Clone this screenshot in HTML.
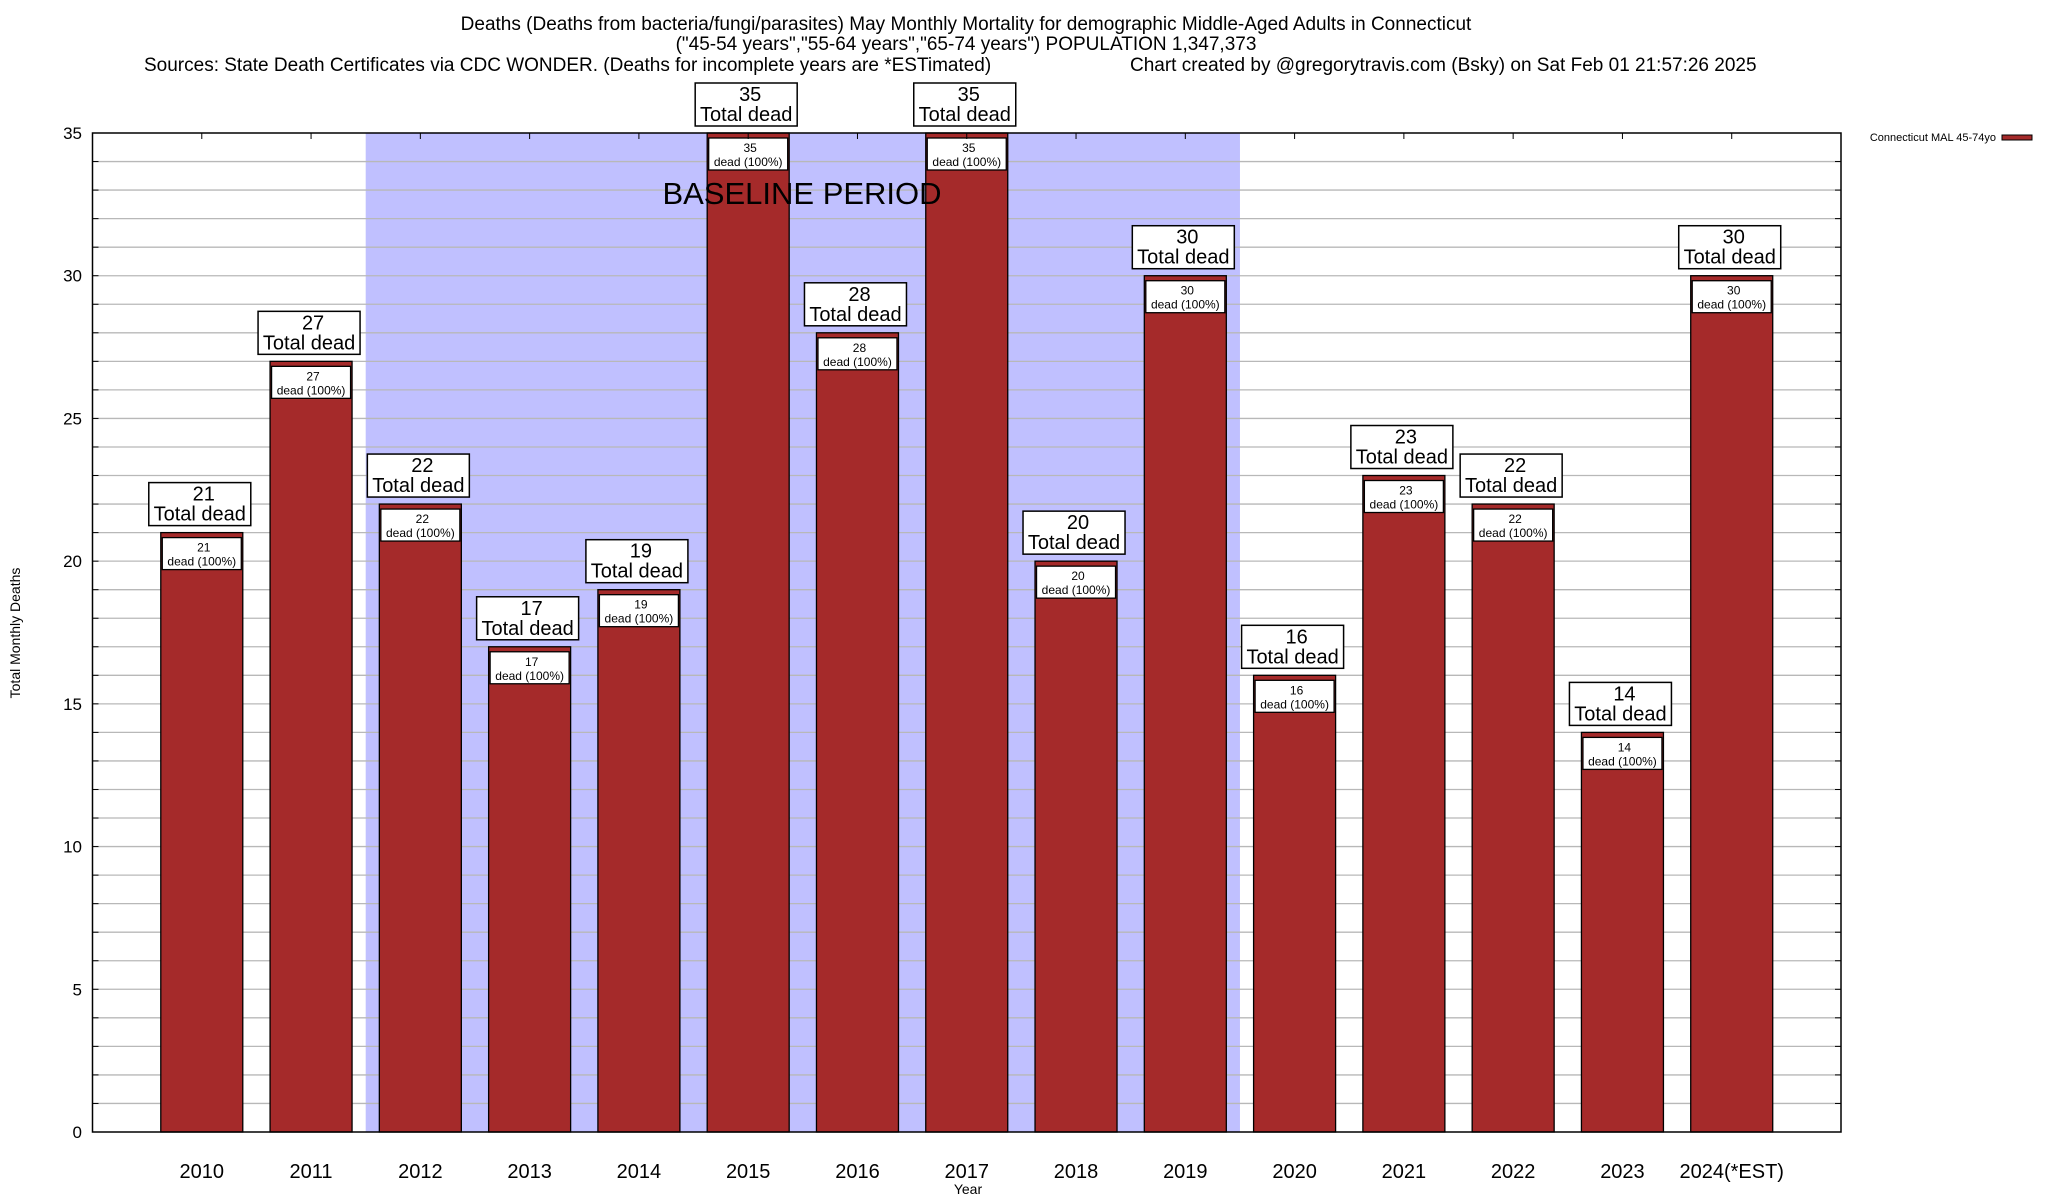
<!DOCTYPE html>
<html><head><meta charset="utf-8"><style>
html,body{margin:0;padding:0;background:#fff;}
svg{display:block;font-family:"Liberation Sans",sans-serif;}
</style></head><body>
<svg id="chart" width="2048" height="1200" viewBox="0 0 2048 1200">
<rect x="0" y="0" width="2048" height="1200" fill="#fff"/>
<g font-size="19" fill="#000">
<text x="966" y="30" text-anchor="middle">Deaths (Deaths from bacteria/fungi/parasites) May Monthly Mortality for demographic Middle-Aged Adults in Connecticut</text>
<text x="966" y="50" text-anchor="middle">("45-54 years","55-64 years","65-74 years") POPULATION 1,347,373</text>
<text x="144" y="71">Sources: State Death Certificates via CDC WONDER. (Deaths for incomplete years are *ESTimated)</text>
<text x="1130" y="71">Chart created by @gregorytravis.com (Bsky) on Sat Feb 01 21:57:26 2025</text>
</g>
<g id="plot"></g>
<text x="968" y="1194" font-size="14" text-anchor="middle">Year</text>
<text transform="translate(20,633) rotate(-90)" font-size="14" text-anchor="middle">Total Monthly Deaths</text>
<g>
<text x="1996" y="141" font-size="11" text-anchor="end">Connecticut MAL 45-74yo</text>
<rect x="2002" y="135" width="30" height="5" fill="#a52a2a" stroke="#000" stroke-width="1"/>
</g>
</svg>
<script>
const categories = ["2010","2011","2012","2013","2014","2015","2016","2017","2018","2019","2020","2021","2022","2023","2024(*EST)"];
const values = [21,27,22,17,19,35,28,35,20,30,16,23,22,14,30];
const yTicks = [0,5,10,15,20,25,30,35];
const baselineRange = [1.5, 9.5];

const L=92.5,R=1841,T=133,B=1132,yMax=35;
const xs=i=>L+(i+1)*(R-L)/(categories.length+1);
const ys=v=>B-v*(B-T)/yMax;
const NS="http://www.w3.org/2000/svg";
const g=document.getElementById('plot');
function mk(tag,attrs,parent){const e=document.createElementNS(NS,tag);for(const k in attrs)e.setAttribute(k,attrs[k]);(parent||g).appendChild(e);return e;}

let sh=mk('rect',{x:xs(baselineRange[0]),y:T,width:xs(baselineRange[1])-xs(baselineRange[0]),height:B-T,fill:'#c0c0ff'});


for(let v=1;v<yMax;v++){
  let ln=mk('line',{x1:L,x2:R,y1:ys(v),y2:ys(v),stroke:'#b8b8b8','stroke-width':1.3});
  
  
  mk('line',{x1:L,x2:L+6,y1:ys(v),y2:ys(v),stroke:'#000','stroke-width':1});
  mk('line',{x1:R-6,x2:R,y1:ys(v),y2:ys(v),stroke:'#000','stroke-width':1});
}
yTicks.forEach(v=>{
  let t=mk('text',{x:82,y:ys(v)+6,'font-size':17,'text-anchor':'end'});
  t.textContent=v;
  
  
});
const bw=82;
categories.forEach((c,i)=>{
  const cx=xs(i),v=values[i],yt=ys(v);
  let b=mk('rect',{x:cx-bw/2,y:yt,width:bw,height:B-yt,fill:'#a52a2a',stroke:'#000','stroke-width':1.3});
  
  
  let ib=mk('rect',{x:cx-bw/2+1.5,y:yt+5,width:bw-3,height:32,fill:'#fff',stroke:'#000','stroke-width':1.3});
  
  
  let t1=mk('text',{x:cx+2,y:yt+19,'font-size':12,'text-anchor':'middle'});t1.textContent=v;
  
  
  let t2=mk('text',{x:cx,y:yt+33,'font-size':12,'text-anchor':'middle'});t2.textContent='dead (100%)';
  
  
  let ob=mk('rect',{x:cx-53,y:yt-50,width:102,height:43,fill:'#fff',stroke:'#000','stroke-width':1.5});
  
  
  let o1=mk('text',{x:cx+2,y:yt-32,'font-size':20,'text-anchor':'middle'});o1.textContent=v;
  
  
  let o2=mk('text',{x:cx-2,y:yt-12,'font-size':20,'text-anchor':'middle'});o2.textContent='Total dead';
  
  
  let xl=mk('text',{x:cx,y:1178,'font-size':20,'text-anchor':'middle'});xl.textContent=c;
  
  
  mk('line',{x1:cx,x2:cx,y1:T,y2:T+6,stroke:'#000','stroke-width':1});
});
let bt=mk('text',{x:802,y:204,'font-size':31,'text-anchor':'middle'});
bt.textContent='BASELINE PERIOD';


let fr=mk('rect',{x:L,y:T,width:R-L,height:B-T,fill:'none',stroke:'#000','stroke-width':1.5});


</script>
</body></html>
